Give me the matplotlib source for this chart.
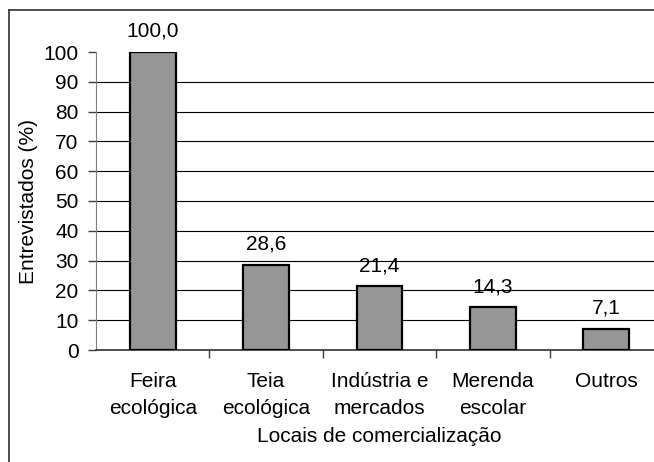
import matplotlib.pyplot as plt
from matplotlib.lines import Line2D

plt.rcParams['font.family'] = ['Liberation Sans', 'DejaVu Sans']

categorias = ["Feira\necológica", "Teia\necológica", "Indústria e\nmercados",
              "Merenda\nescolar", "Outros"]
valores = [100.0, 28.6, 21.4, 14.3, 7.1]
rotulos = ["100,0", "28,6", "21,4", "14,3", "7,1"]

W, H = 654, 462
fig = plt.figure(figsize=(W / 100, H / 100), dpi=100)

# area do grafico (em pixels: esquerda 96, base 350, topo 52, largura 5 x 113.4)
ax = fig.add_axes([96 / W, (H - 350) / H, 567 / W, 298 / H])

x = range(len(valores))
ax.bar(x, valores, width=0.405, color="#969696", edgecolor="black",
       linewidth=1.6, zorder=3)

for xi, v, r in zip(x, valores, rotulos):
    ax.annotate(r, (xi, v), xytext=(0, 8), textcoords="offset points",
                ha="center", va="bottom", fontsize=15)

ax.set_xlim(-0.5, len(valores) - 0.5)
ax.set_ylim(0, 100)
ax.set_yticks(range(0, 101, 10))
for y in range(10, 100, 10):
    ax.axhline(y, color="black", linewidth=0.8, zorder=1)

ax.set_xticks([i + 0.5 for i in range(len(valores) - 1)])
ax.set_xticklabels([])
ax.set_xticks(list(x), minor=True)
ax.set_xticklabels(categorias, minor=True, fontsize=15, linespacing=1.5)
ax.tick_params(axis="x", which="minor", length=0, pad=16)
ax.tick_params(axis="x", which="major", length=6, width=1, direction="out",
               color="#404040")
ax.tick_params(axis="y", length=5.5, width=1, direction="out", labelsize=15,
               color="#404040", pad=7)

for s in ["top", "right"]:
    ax.spines[s].set_visible(False)
ax.spines["left"].set_color("#808080")
ax.spines["bottom"].set_color("#303030")
ax.spines["bottom"].set_linewidth(1.2)

ax.set_ylabel("Entrevistados (%)", fontsize=15, labelpad=4)
ax.set_xlabel("Locais de comercialização", fontsize=15, labelpad=7)

# moldura externa
fig.add_artist(Line2D([9 / W, 9 / W], [0, 1 - 10 / H], color="#303030",
                      linewidth=1.2, transform=fig.transFigure))
fig.add_artist(Line2D([9 / W, 1], [1 - 10 / H, 1 - 10 / H], color="#303030",
                      linewidth=1.2, transform=fig.transFigure))

fig.savefig("out.png", dpi=100)
